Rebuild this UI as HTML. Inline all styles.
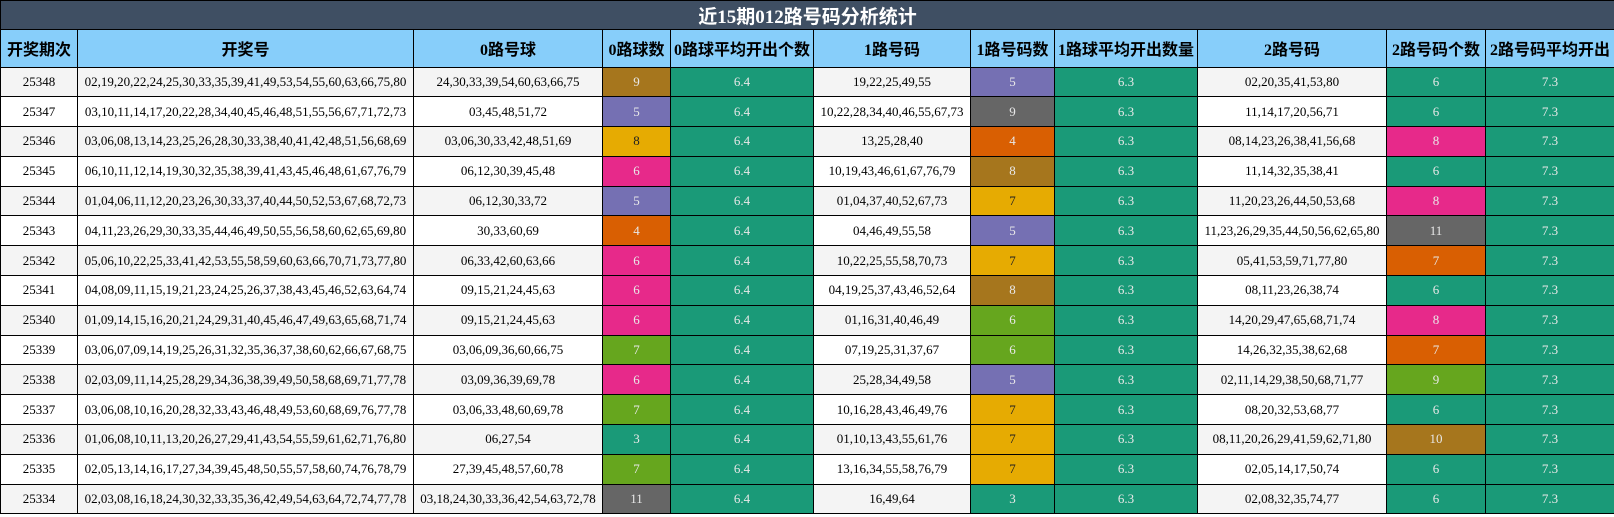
<!DOCTYPE html>
<html><head><meta charset="utf-8"><style>
body{margin:0;background:#fff;width:1614px;height:517px;overflow:hidden}
table{border-collapse:collapse;table-layout:fixed;width:1614px;font-family:"Liberation Serif","Noto Serif CJK SC",serif}
td,th{border:1.5px solid #000;text-align:center;padding:0;white-space:nowrap;overflow:hidden}
.t{background:#3f4f63;color:#fff;font-weight:bold;font-size:19px;height:28px;font-family:"Liberation Serif","Noto Sans CJK SC",sans-serif}
th{background:#87cefa;height:36.5px;font-size:16px;font-weight:bold;color:#000;font-family:"Liberation Serif","Noto Sans CJK SC",sans-serif}
td{height:28.8px;font-size:13px;color:#000}
tr.a td{background:#f4f4f4}
tr.b td{background:#fff}
tr td.g{background:#1a9a78;color:#e8e8e8}
tr td.br{background:#a6761d;color:#e8e8e8}
tr td.p{background:#7570b3;color:#e8e8e8}
tr td.y{background:#e6ab02;color:#222}
tr td.o{background:#d95f02;color:#e8e8e8}
tr td.k{background:#e7298a;color:#e8e8e8}
tr td.l{background:#66a61e;color:#e8e8e8}
tr td.gr{background:#666;color:#e8e8e8}
</style></head><body>
<table>
<colgroup><col style="width:77px"><col style="width:336px"><col style="width:189px"><col style="width:68px"><col style="width:143px"><col style="width:157px"><col style="width:84px"><col style="width:143px"><col style="width:189px"><col style="width:99px"><col style="width:129px"></colgroup>
<tr><td class="t" colspan="11">近15期012路号码分析统计</td></tr>
<tr><th>开奖期次</th><th>开奖号</th><th>0路号球</th><th>0路球数</th><th>0路球平均开出个数</th><th>1路号码</th><th>1路号码数</th><th>1路球平均开出数量</th><th>2路号码</th><th>2路号码个数</th><th>2路号码平均开出</th></tr>
<tr class="a"><td>25348</td><td>02,19,20,22,24,25,30,33,35,39,41,49,53,54,55,60,63,66,75,80</td><td>24,30,33,39,54,60,63,66,75</td><td class="br">9</td><td class="g">6.4</td><td>19,22,25,49,55</td><td class="p">5</td><td class="g">6.3</td><td>02,20,35,41,53,80</td><td class="g">6</td><td class="g">7.3</td></tr>
<tr class="b"><td>25347</td><td>03,10,11,14,17,20,22,28,34,40,45,46,48,51,55,56,67,71,72,73</td><td>03,45,48,51,72</td><td class="p">5</td><td class="g">6.4</td><td>10,22,28,34,40,46,55,67,73</td><td class="gr">9</td><td class="g">6.3</td><td>11,14,17,20,56,71</td><td class="g">6</td><td class="g">7.3</td></tr>
<tr class="a"><td>25346</td><td>03,06,08,13,14,23,25,26,28,30,33,38,40,41,42,48,51,56,68,69</td><td>03,06,30,33,42,48,51,69</td><td class="y">8</td><td class="g">6.4</td><td>13,25,28,40</td><td class="o">4</td><td class="g">6.3</td><td>08,14,23,26,38,41,56,68</td><td class="k">8</td><td class="g">7.3</td></tr>
<tr class="b"><td>25345</td><td>06,10,11,12,14,19,30,32,35,38,39,41,43,45,46,48,61,67,76,79</td><td>06,12,30,39,45,48</td><td class="k">6</td><td class="g">6.4</td><td>10,19,43,46,61,67,76,79</td><td class="br">8</td><td class="g">6.3</td><td>11,14,32,35,38,41</td><td class="g">6</td><td class="g">7.3</td></tr>
<tr class="a"><td>25344</td><td>01,04,06,11,12,20,23,26,30,33,37,40,44,50,52,53,67,68,72,73</td><td>06,12,30,33,72</td><td class="p">5</td><td class="g">6.4</td><td>01,04,37,40,52,67,73</td><td class="y">7</td><td class="g">6.3</td><td>11,20,23,26,44,50,53,68</td><td class="k">8</td><td class="g">7.3</td></tr>
<tr class="b"><td>25343</td><td>04,11,23,26,29,30,33,35,44,46,49,50,55,56,58,60,62,65,69,80</td><td>30,33,60,69</td><td class="o">4</td><td class="g">6.4</td><td>04,46,49,55,58</td><td class="p">5</td><td class="g">6.3</td><td>11,23,26,29,35,44,50,56,62,65,80</td><td class="gr">11</td><td class="g">7.3</td></tr>
<tr class="a"><td>25342</td><td>05,06,10,22,25,33,41,42,53,55,58,59,60,63,66,70,71,73,77,80</td><td>06,33,42,60,63,66</td><td class="k">6</td><td class="g">6.4</td><td>10,22,25,55,58,70,73</td><td class="y">7</td><td class="g">6.3</td><td>05,41,53,59,71,77,80</td><td class="o">7</td><td class="g">7.3</td></tr>
<tr class="b"><td>25341</td><td>04,08,09,11,15,19,21,23,24,25,26,37,38,43,45,46,52,63,64,74</td><td>09,15,21,24,45,63</td><td class="k">6</td><td class="g">6.4</td><td>04,19,25,37,43,46,52,64</td><td class="br">8</td><td class="g">6.3</td><td>08,11,23,26,38,74</td><td class="g">6</td><td class="g">7.3</td></tr>
<tr class="a"><td>25340</td><td>01,09,14,15,16,20,21,24,29,31,40,45,46,47,49,63,65,68,71,74</td><td>09,15,21,24,45,63</td><td class="k">6</td><td class="g">6.4</td><td>01,16,31,40,46,49</td><td class="l">6</td><td class="g">6.3</td><td>14,20,29,47,65,68,71,74</td><td class="k">8</td><td class="g">7.3</td></tr>
<tr class="b"><td>25339</td><td>03,06,07,09,14,19,25,26,31,32,35,36,37,38,60,62,66,67,68,75</td><td>03,06,09,36,60,66,75</td><td class="l">7</td><td class="g">6.4</td><td>07,19,25,31,37,67</td><td class="l">6</td><td class="g">6.3</td><td>14,26,32,35,38,62,68</td><td class="o">7</td><td class="g">7.3</td></tr>
<tr class="a"><td>25338</td><td>02,03,09,11,14,25,28,29,34,36,38,39,49,50,58,68,69,71,77,78</td><td>03,09,36,39,69,78</td><td class="k">6</td><td class="g">6.4</td><td>25,28,34,49,58</td><td class="p">5</td><td class="g">6.3</td><td>02,11,14,29,38,50,68,71,77</td><td class="l">9</td><td class="g">7.3</td></tr>
<tr class="b"><td>25337</td><td>03,06,08,10,16,20,28,32,33,43,46,48,49,53,60,68,69,76,77,78</td><td>03,06,33,48,60,69,78</td><td class="l">7</td><td class="g">6.4</td><td>10,16,28,43,46,49,76</td><td class="y">7</td><td class="g">6.3</td><td>08,20,32,53,68,77</td><td class="g">6</td><td class="g">7.3</td></tr>
<tr class="a"><td>25336</td><td>01,06,08,10,11,13,20,26,27,29,41,43,54,55,59,61,62,71,76,80</td><td>06,27,54</td><td class="g">3</td><td class="g">6.4</td><td>01,10,13,43,55,61,76</td><td class="y">7</td><td class="g">6.3</td><td>08,11,20,26,29,41,59,62,71,80</td><td class="br">10</td><td class="g">7.3</td></tr>
<tr class="b"><td>25335</td><td>02,05,13,14,16,17,27,34,39,45,48,50,55,57,58,60,74,76,78,79</td><td>27,39,45,48,57,60,78</td><td class="l">7</td><td class="g">6.4</td><td>13,16,34,55,58,76,79</td><td class="y">7</td><td class="g">6.3</td><td>02,05,14,17,50,74</td><td class="g">6</td><td class="g">7.3</td></tr>
<tr class="a"><td>25334</td><td>02,03,08,16,18,24,30,32,33,35,36,42,49,54,63,64,72,74,77,78</td><td>03,18,24,30,33,36,42,54,63,72,78</td><td class="gr">11</td><td class="g">6.4</td><td>16,49,64</td><td class="g">3</td><td class="g">6.3</td><td>02,08,32,35,74,77</td><td class="g">6</td><td class="g">7.3</td></tr>
</table>
</body></html>
